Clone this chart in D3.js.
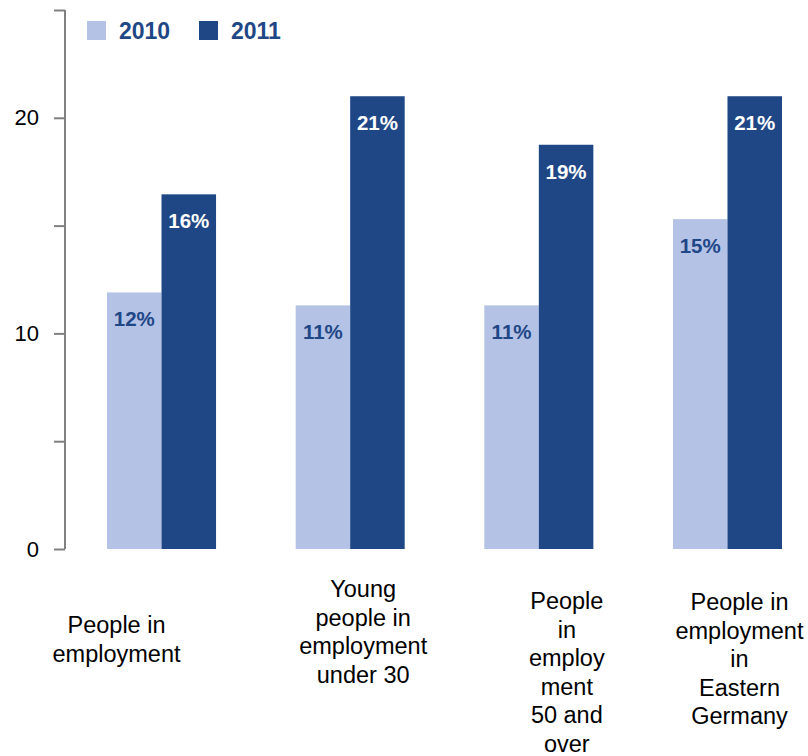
<!DOCTYPE html>
<html>
<head>
<meta charset="utf-8">
<script src="https://cdn.jsdelivr.net/npm/d3@7"></script>
<style>
  body { margin: 0; background: #fff; }
  svg { display: block; font-family: "Liberation Sans", Arial, sans-serif; }
</style>
</head>
<body>
<svg width="808" height="756"></svg>
<script>
// data
const categories = [
    ["People in", "employment"],
    ["Young", "people in", "employment", "under 30"],
    ["People", "in", "employ", "ment", "50 and", "over"],
    ["People in", "employment", "in", "Eastern", "Germany"]
];
const years = ["2010", "2011"];
const values2010 = [11.9, 11.3, 11.3, 15.3];
const values2011 = [16.45, 21.0, 18.75, 21.0];
const yTicks = [0, 5, 10, 15, 20, 25];
const yTickLabels = ["0", "", "10", "", "20", ""];

// layout of the category captions (offset from group centre, first baseline)
const labelDx = [-45, 13, 28, 12];
const labelY = [633, 597, 609, 610];

const colors = { "2010": "#b4c2e6", "2011": "#1f4786" };
const darkText = "#1f4786";

const svg = d3.select("svg");

const scX = d3.scaleBand()
    .domain(d3.range(categories.length))
    .range([107, 782])
    .paddingInner(0.422)
    .paddingOuter(0);

const scSub = d3.scaleBand()
    .domain(years)
    .range([0, scX.bandwidth()]);

const scY = d3.scaleLinear()
    .domain([0, 25])
    .range([549, 10]);

// ось Y
const axisY = d3.axisLeft(scY)
    .tickValues(yTicks)
    .tickFormat((d, i) => yTickLabels[i])
    .tickSize(11)
    .tickPadding(15);

const gAxis = svg.append("g")
    .attr("transform", "translate(65,0)")
    .call(axisY);
gAxis.select(".domain").attr("stroke", "#808080").attr("stroke-width", 2).attr("d", `M0,${scY(25)}V${scY(0)}`);
gAxis.selectAll(".tick line").attr("stroke", "#808080").attr("stroke-width", 2);
gAxis.selectAll(".tick text")
    .attr("fill", "#000")
    .style("font-size", "22px")
    .style("font-family", "'Liberation Sans', Arial, sans-serif");

// bars
const pointsData = categories.flatMap((c, i) => [
    { i: i, year: "2010", value: values2010[i] },
    { i: i, year: "2011", value: values2011[i] }
]);

svg.selectAll(".bar")
    .data(pointsData)
    .enter()
    .append("rect")
    .attr("x", d => scX(d.i) + scSub(d.year))
    .attr("y", d => scY(d.value))
    .attr("width", scSub.bandwidth())
    .attr("height", d => scY(0) - scY(d.value))
    .style("fill", d => colors[d.year]);

svg.selectAll(".val")
    .data(pointsData)
    .enter()
    .append("text")
    .attr("x", d => scX(d.i) + scSub(d.year) + scSub.bandwidth() / 2)
    .attr("y", d => scY(d.value) + 34)
    .attr("text-anchor", "middle")
    .style("font-size", "20.5px")
    .style("font-weight", "bold")
    .style("fill", d => d.year === "2010" ? darkText : "#fff")
    .text(d => Math.round(d.value) + "%");

// category captions
categories.forEach((lines, i) => {
    const cx = scX(i) + scX.bandwidth() / 2 + labelDx[i];
    const t = svg.append("text")
        .attr("text-anchor", "middle")
        .style("font-size", "23.5px")
        .style("fill", "#000");
    lines.forEach((line, k) => {
        t.append("tspan")
            .attr("x", cx)
            .attr("y", labelY[i] + k * 28.5)
            .text(line);
    });
});

// legend
const legendX = [87, 199];
years.forEach((y, k) => {
    svg.append("rect")
        .attr("x", legendX[k])
        .attr("y", 21)
        .attr("width", 19)
        .attr("height", 19)
        .style("fill", colors[y]);
    svg.append("text")
        .attr("x", legendX[k] + 32)
        .attr("y", 39)
        .style("font-size", "23px")
        .style("font-weight", "bold")
        .style("fill", darkText)
        .text(y);
});
</script>
</body>
</html>
